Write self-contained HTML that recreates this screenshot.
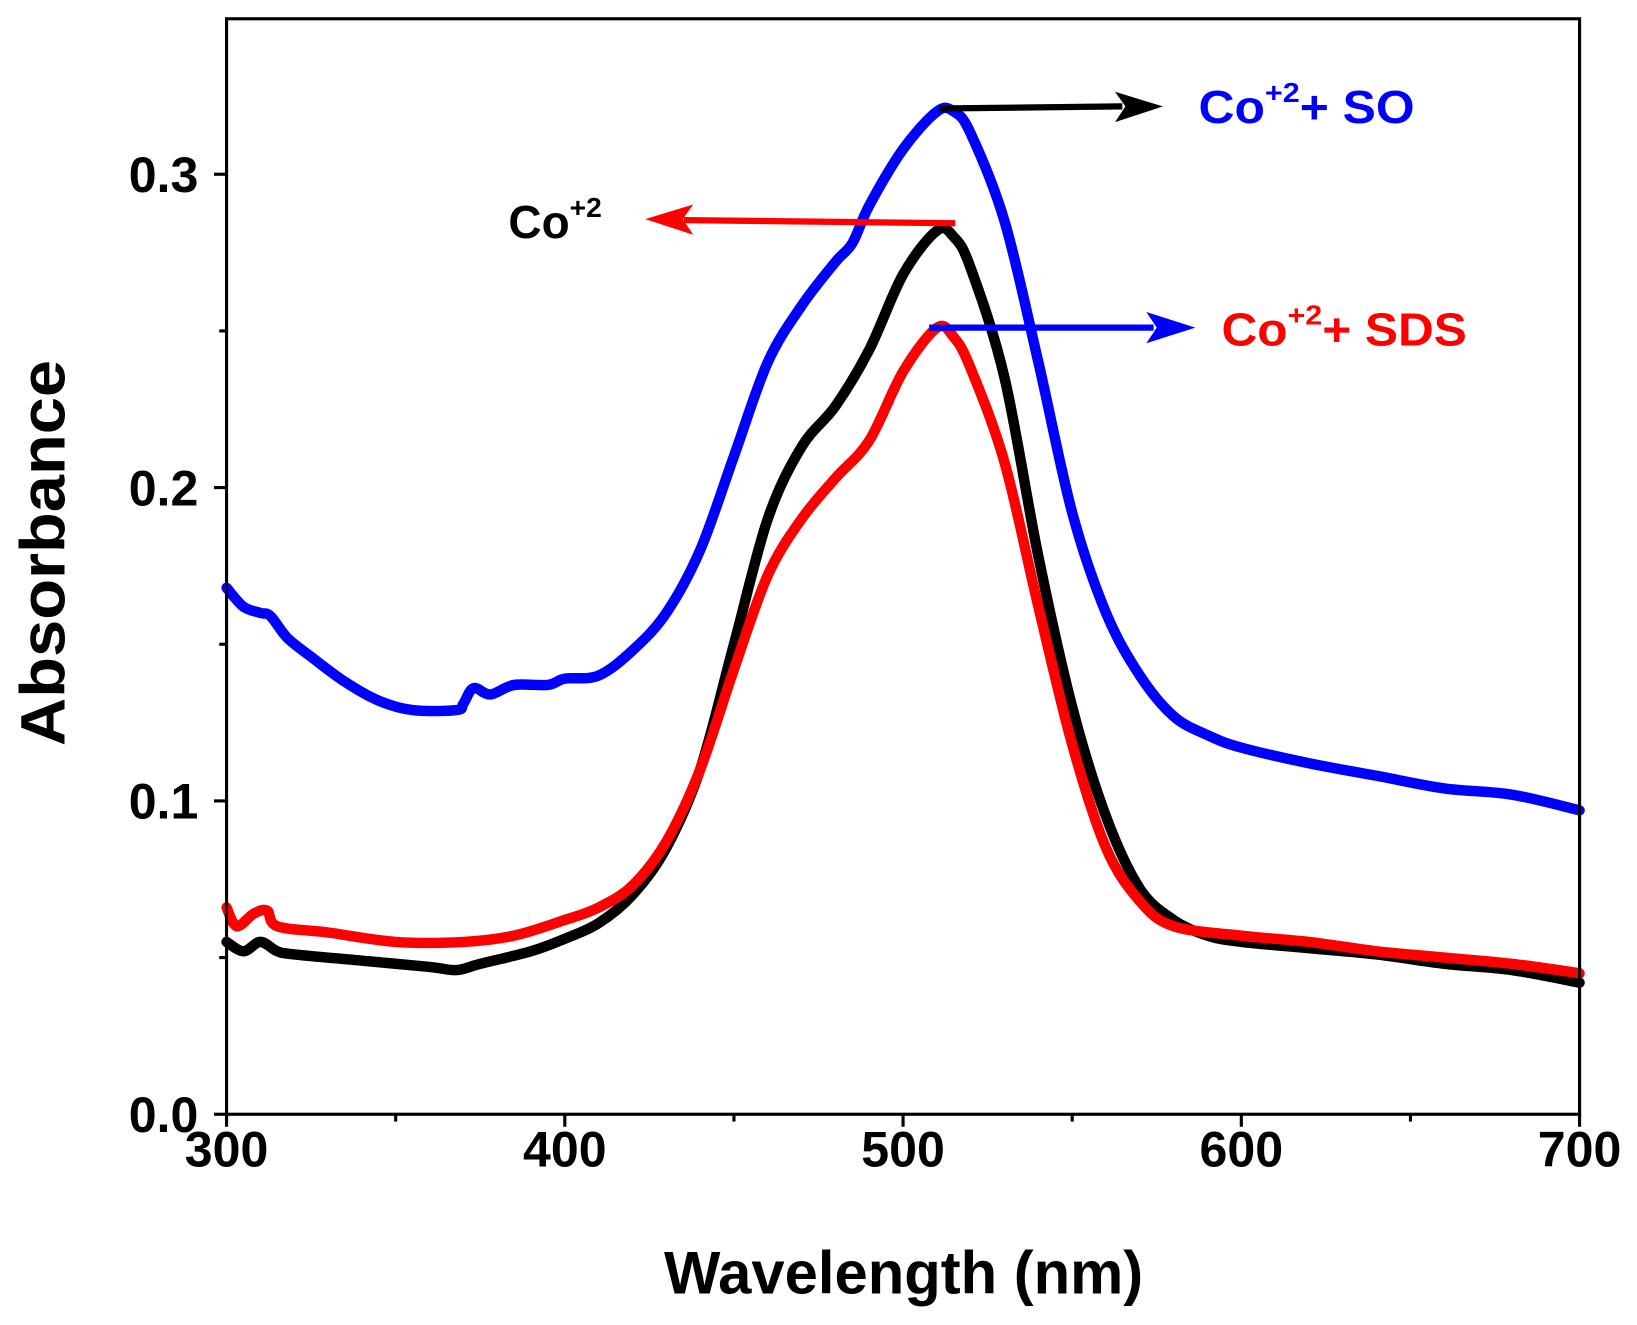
<!DOCTYPE html>
<html><head><meta charset="utf-8"><style>
html,body{margin:0;padding:0;background:#fff;}
svg{display:block;font-family:"Liberation Sans",Arial,sans-serif;font-weight:bold;}
</style></head><body>
<svg id="chart" width="1637" height="1325" viewBox="0 0 1568 1270" preserveAspectRatio="none" xmlns="http://www.w3.org/2000/svg">
<g id="plot"></g>
<g>
  <line x1="900" y1="104" x2="1075" y2="102" stroke="#000" stroke-width="6"/>
  <path d="M1068,88 L1114,102 L1068,117 L1078,102 z" fill="#000"/>
  <text x="1148" y="118" font-size="44" fill="#0000ff" textLength="207" lengthAdjust="spacingAndGlyphs">Co<tspan font-size="27" dy="-20">+2</tspan><tspan dy="20">+ SO</tspan></text>
  <line x1="915" y1="214" x2="655" y2="211" stroke="#ff0000" stroke-width="6"/>
  <path d="M664,196 L618,210 L664,225 L654,210 z" fill="#ff0000"/>
  <text x="487" y="228" font-size="44" fill="#000">Co<tspan font-size="27" dy="-20">+2</tspan></text>
  <line x1="890" y1="314" x2="1105" y2="314" stroke="#0000ff" stroke-width="6"/>
  <path d="M1098,299 L1145,314 L1098,329 L1108,314 z" fill="#0000ff"/>
  <text x="1170" y="331" font-size="44" fill="#ff0000" textLength="235" lengthAdjust="spacingAndGlyphs">Co<tspan font-size="27" dy="-20">+2</tspan><tspan dy="20">+ SDS</tspan></text>
</g>
<text x="636" y="1240" font-size="58" textLength="459" lengthAdjust="spacingAndGlyphs">Wavelength (nm)</text>
<text x="0" y="0" font-size="60" textLength="370" lengthAdjust="spacingAndGlyphs" transform="translate(62,715) rotate(-90)">Absorbance</text>
</svg>
<script>
const wlBlack=[300,305,310,315,320,340,360,368,375,390,400,410,420,430,440,450,460,470,480,490,500,510,515,520,530,540,550,560,570,580,590,600,620,640,660,680,700];
const absBlack=[0.055,0.052,0.055,0.052,0.051,0.049,0.047,0.046,0.048,0.052,0.056,0.061,0.070,0.085,0.110,0.150,0.190,0.213,0.226,0.244,0.268,0.282,0.280,0.270,0.235,0.178,0.130,0.095,0.072,0.062,0.057,0.055,0.053,0.051,0.048,0.046,0.042];
const wlRed=[300,303,308,312,315,330,350,370,385,400,410,420,430,440,450,460,470,480,490,500,510,515,520,530,540,550,560,570,580,600,620,640,660,680,700];
const absRed=[0.066,0.060,0.064,0.065,0.060,0.058,0.055,0.055,0.057,0.062,0.066,0.073,0.087,0.110,0.142,0.172,0.190,0.203,0.215,0.237,0.251,0.248,0.238,0.208,0.162,0.118,0.085,0.068,0.060,0.057,0.055,0.052,0.050,0.048,0.045];
const wlBlue=[300,305,310,313,318,325,335,345,355,368,370,373,378,385,395,400,410,420,430,440,450,460,470,480,485,490,500,510,515,520,530,540,550,560,570,580,590,600,620,640,660,680,700];
const absBlue=[0.168,0.162,0.160,0.159,0.152,0.146,0.138,0.132,0.129,0.129,0.131,0.136,0.134,0.137,0.137,0.139,0.140,0.148,0.160,0.180,0.210,0.240,0.258,0.272,0.278,0.290,0.308,0.320,0.320,0.313,0.285,0.240,0.192,0.160,0.140,0.127,0.121,0.117,0.112,0.108,0.104,0.102,0.097];
const xTicks=[300,400,500,600,700];
const xMinor=[350,450,550,650];
const yTicks=[0.0,0.1,0.2,0.3];
const yTickLabels=["0.0","0.1","0.2","0.3"];
const yMinor=[0.05,0.15,0.25];

const X0=217,X1=1513,Y0=1068,YT=18;
const xs=v=>X0+(v-300)/400*(X1-X0);
const ys=v=>Y0-v/0.1*300.33;
const NS="http://www.w3.org/2000/svg";
const g=document.getElementById('plot');
function mk(t,a){const e=document.createElementNS(NS,t);for(const k in a)e.setAttribute(k,a[k]);g.appendChild(e);return e;}
function series(wl,ab,color,name){
  const P=wl.map((w,i)=>[xs(w),ys(ab[i])]);
  let d='M'+P[0][0].toFixed(1)+','+P[0][1].toFixed(1);
  for(let i=0;i<P.length-1;i++){
    const p0=P[Math.max(0,i-1)],p1=P[i],p2=P[i+1],p3=P[Math.min(P.length-1,i+2)];
    const c1=[p1[0]+(p2[0]-p0[0])/6,p1[1]+(p2[1]-p0[1])/6];
    const c2=[p2[0]-(p3[0]-p1[0])/6,p2[1]-(p3[1]-p1[1])/6];
    d+=' C'+c1[0].toFixed(1)+','+c1[1].toFixed(1)+' '+c2[0].toFixed(1)+','+c2[1].toFixed(1)+' '+p2[0].toFixed(1)+','+p2[1].toFixed(1);
  }
  const p=mk('path',{d:d,fill:'none',stroke:color,'stroke-width':10,'stroke-linejoin':'round','stroke-linecap':'round'});
  
  
}
series(wlBlue,absBlue,'#0000ff','series-co-so');
series(wlBlack,absBlack,'#000000','series-co');
series(wlRed,absRed,'#ff0000','series-co-sds');
const frame=mk('rect',{x:X0,y:YT,width:X1-X0,height:Y0-YT,fill:'none',stroke:'#000','stroke-width':3});


xTicks.forEach(v=>{
  const t=mk('line',{x1:xs(v),x2:xs(v),y1:Y0,y2:Y0+12,stroke:'#000','stroke-width':3});
  
  
  const l=mk('text',{x:xs(v),y:Y0+50,'font-size':48,'text-anchor':'middle'});
  l.textContent=v;
  
  
});
xMinor.forEach(v=>{
  const t=mk('line',{x1:xs(v),x2:xs(v),y1:Y0,y2:Y0+7,stroke:'#000','stroke-width':3});
  
  
});
yTicks.forEach((v,i)=>{
  const t=mk('line',{x1:X0-12,x2:X0,y1:ys(v),y2:ys(v),stroke:'#000','stroke-width':3});
  
  
  const l=mk('text',{x:X0-27,y:ys(v)+17,'font-size':48,'text-anchor':'end'});
  l.textContent=yTickLabels[i];
  
  
});
yMinor.forEach(v=>{
  const t=mk('line',{x1:X0-7,x2:X0,y1:ys(v),y2:ys(v),stroke:'#000','stroke-width':3});
  
  
});
</script>
</body></html>
